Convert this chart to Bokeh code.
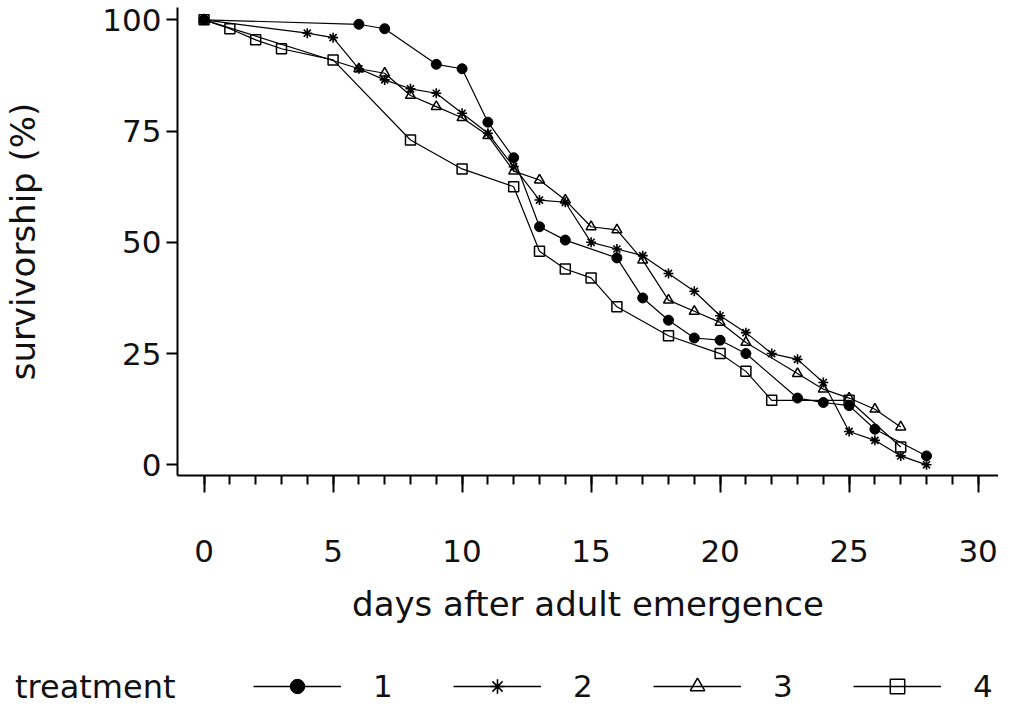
from bokeh.plotting import figure
from bokeh.layouts import column
from bokeh.models import FixedTicker, Legend, LegendItem, Range1d
from bokeh.embed import file_html
from bokeh.resources import INLINE

# ---- data ----
days_t1 = [0, 6, 7, 9, 10, 11, 12, 13, 14, 16, 17, 18, 19, 20, 21, 23, 24, 25, 26, 28]
surv_t1 = [100, 99, 98, 90, 89, 77, 69, 53.5, 50.5, 46.5, 37.5, 32.5, 28.5, 28, 25, 15, 14, 13.3, 8, 2]

days_t2 = [0, 4, 5, 6, 7, 8, 9, 10, 11, 12, 13, 14, 15, 16, 17, 18, 19, 20, 21, 22, 23, 24, 25, 26, 27, 28]
surv_t2 = [100, 97, 96, 89, 86.5, 84.5, 83.5, 79, 74.5, 67, 59.5, 59, 50, 48.5, 47, 43, 39, 33.5, 29.7, 25, 23.7, 18.5, 7.5, 5.5, 2, 0]

days_t3 = [0, 6, 7, 8, 9, 10, 11, 12, 13, 14, 15, 16, 17, 18, 19, 20, 21, 23, 24, 25, 26, 27]
surv_t3 = [100, 89, 88, 83, 80.5, 78, 74, 66, 64, 59.5, 53.5, 52.8, 46, 37, 34.5, 32, 27.5, 20.5, 17, 15, 12.5, 8.5]

days_t4 = [0, 1, 2, 3, 5, 8, 10, 12, 13, 14, 15, 16, 18, 20, 21, 22, 25, 27]
surv_t4 = [100, 98, 95.5, 93.5, 91, 73, 66.5, 62.5, 48, 44, 42, 35.5, 29, 25, 21, 14.5, 14.5, 4]

treatments = ["1", "2", "3", "4"]
legend_title = "treatment"
x_ticks = [0, 5, 10, 15, 20, 25, 30]
x_minor = list(range(0, 31))
y_ticks = [0, 25, 50, 75, 100]

series = [(days_t1, surv_t1), (days_t2, surv_t2), (days_t3, surv_t3), (days_t4, surv_t4)]

FONT = "DejaVu Sans"
INK = "#111111"

marker_styles = [
    dict(marker="circle", fill_color="black", line_color="black"),
    dict(marker="asterisk", line_color="black", line_width=1.6),
    dict(marker="triangle", fill_alpha=0, line_color="black", line_width=1.5),
    dict(marker="square", fill_alpha=0, line_color="black", line_width=1.5),
]

# ---------------- main plot ----------------
p = figure(width=998, height=664, output_backend="svg", toolbar_location=None,
           x_range=Range1d(-1.03, 30.79), y_range=Range1d(-2.40, 102.77),
           min_border_left=173, min_border_right=0, min_border_top=7, min_border_bottom=189)
p.outline_line_color = None
p.grid.visible = False

xa = p.xaxis[0]
xa.ticker = FixedTicker(ticks=x_ticks, minor_ticks=x_minor)
xa.axis_label = "days after adult emergence"
xa.axis_line_width = 2
xa.major_tick_line_width = 2
xa.minor_tick_line_width = 2
xa.major_tick_in = 0
xa.major_tick_out = 17
xa.minor_tick_in = 0
xa.minor_tick_out = 9
xa.minor_tick_line_color = "black"
xa.major_label_standoff = 47
xa.axis_label_standoff = 19

ya = p.yaxis[0]
ya.ticker = FixedTicker(ticks=y_ticks, minor_ticks=[])
ya.axis_label = "survivorship (%)"
ya.axis_line_width = 2
ya.major_tick_line_width = 2
ya.major_tick_in = 0
ya.major_tick_out = 11
ya.minor_tick_line_color = None
ya.major_label_standoff = 5
ya.axis_label_standoff = 56

for ax in (xa, ya):
    ax.axis_line_color = "black"
    ax.major_tick_line_color = "black"
    ax.major_label_text_font = FONT
    ax.major_label_text_font_size = "31px"
    ax.major_label_text_color = INK
    ax.axis_label_text_font = FONT
    ax.axis_label_text_font_size = "34px"
    ax.axis_label_text_font_style = "normal"
    ax.axis_label_text_color = INK

for (dx, dy), st in zip(series, marker_styles):
    p.line(dx, dy, line_color="black", line_width=1.2)
    p.scatter(dx, dy, size=10, **st)

# ---------------- legend strip (its own plot, data kept out of view) ----------------
lg = figure(width=998, height=44, output_backend="svg", toolbar_location=None,
            x_axis_type=None, x_range=Range1d(-1000, -999), y_range=Range1d(-1000, -999),
            min_border_left=173, min_border_right=0, min_border_top=0, min_border_bottom=0)
lg.outline_line_color = None
lg.grid.visible = False
la = lg.yaxis[0]
la.ticker = FixedTicker(ticks=[], minor_ticks=[])
la.axis_line_color = None
la.major_tick_line_color = None
la.minor_tick_line_color = None
la.major_tick_out = 0
la.minor_tick_out = 0
la.major_label_standoff = 0
la.axis_label = legend_title
la.axis_label_orientation = "horizontal"
la.axis_label_standoff = 2
la.axis_label_text_font = FONT
la.axis_label_text_font_size = "32px"
la.axis_label_text_font_style = "normal"
la.axis_label_text_color = INK

items = []
for name, (dx, dy), st in zip(treatments, series, marker_styles):
    lr = lg.line(dx, dy, line_color="black", line_width=1.5)
    sr = lg.scatter(dx, dy, size=10, **st)
    items.append(LegendItem(label=name, renderers=[lr, sr]))

legend = Legend(items=items, orientation="horizontal", location=(76, 4),
                glyph_width=88, glyph_height=36, label_standoff=32, label_width=20, label_height=36,
                spacing=60, padding=0, margin=0,
                background_fill_alpha=0, border_line_color=None,
                label_text_font=FONT, label_text_font_size="31px", label_text_color=INK)
lg.add_layout(legend, "center")

layout = column(p, lg, spacing=0)
open("out.html", "w").write(file_html(layout, INLINE))
